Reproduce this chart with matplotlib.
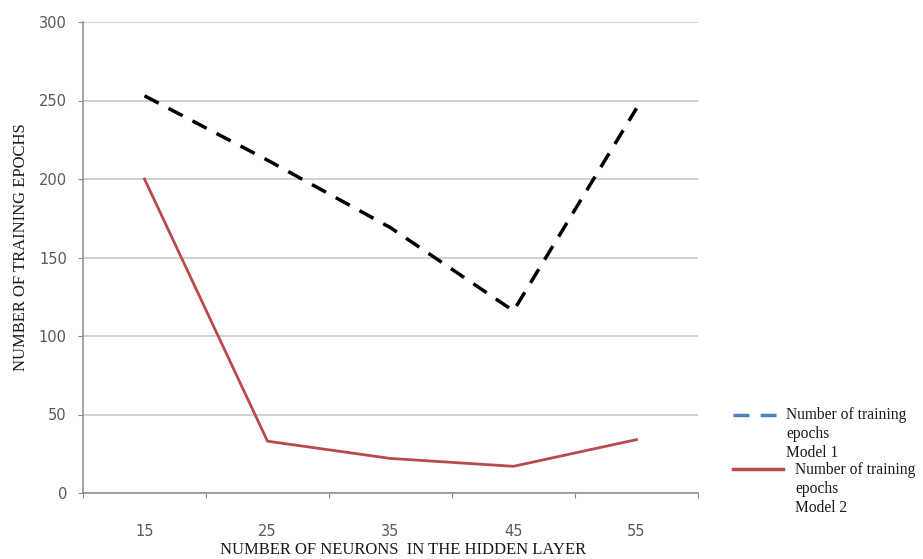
import matplotlib
matplotlib.use("Agg")
import matplotlib.pyplot as plt
from matplotlib.lines import Line2D

categories = ["15", "25", "35", "45", "55"]
model1 = [253, 212, 169, 116, 245]
model2 = [200, 33, 22, 17, 34]
yticks = [0, 50, 100, 150, 200, 250, 300]
legend_labels = ["Number of training\nepochs\nModel 1", "Number of training\nepochs\nModel 2"]

fig = plt.figure(figsize=(9.23, 5.59), dpi=100)
ax = fig.add_axes([83/923, 1 - 493/559, (698-83)/923, (493-22)/559])

dash = (0, (4.6, 3.2))
x = list(range(len(categories)))
ax.plot(x, model1, color="black", lw=2.5, linestyle=dash, dash_capstyle="butt")
ax.plot(x, model2, color="#b84a4c", lw=2.0)

ax.set_xlim(-0.5, len(categories) - 0.5)
ax.set_ylim(0, 300)
ax.set_yticks(yticks)
ax.set_yticklabels([str(v) for v in yticks])
ax.yaxis.grid(True, color="#c3c3c3", lw=1.1)
ax.set_axisbelow(True)

# x ticks at category boundaries, labels at category centres
ax.set_xticks([i - 0.5 for i in range(len(categories) + 1)])
ax.set_xticklabels([])
ax.set_xticks(x, minor=True)
ax.set_xticklabels(categories, minor=True)
ax.tick_params(axis="x", which="minor", length=0, pad=22, labelsize=10.5, labelcolor="#595959")
ax.tick_params(axis="x", which="major", length=3.6, color="#8a8a8a", direction="out")
ax.tick_params(axis="y", length=3.6, color="#8a8a8a", direction="out", pad=8, labelsize=10.5, labelcolor="#595959")

for s in ["top", "right"]:
    ax.spines[s].set_visible(False)
for s in ["left", "bottom"]:
    ax.spines[s].set_color("#8a8a8a")
    ax.spines[s].set_linewidth(1.1)

serif = "Liberation Serif"
fig.text(403/923, 1 - 550/559, "NUMBER OF NEURONS  IN THE HIDDEN LAYER", ha="center", va="center",
         family=serif, fontsize=12, color="#1a1a1a")
fig.text(21/923, 1 - 247/559, "NUMBER OF TRAINING EPOCHS", ha="center", va="center", rotation=90,
         family=serif, fontsize=12, color="#1a1a1a")

# legend drawn at figure level
fig.add_artist(Line2D([733/923, 778/923], [1 - 415/559, 1 - 415/559], transform=fig.transFigure,
                      color="#4f81bd", lw=2.5, linestyle=dash))
fig.text(786/923, 1 - 407/559, legend_labels[0], ha="left", va="top", family=serif, fontsize=11.2,
         color="#1a1a1a", linespacing=1.25)
fig.add_artist(Line2D([733/923, 783/923], [1 - 469/559, 1 - 469/559], transform=fig.transFigure,
                      color="#b84a4c", lw=2.5))
fig.text(795/923, 1 - 462/559, legend_labels[1], ha="left", va="top", family=serif, fontsize=11.2,
         color="#1a1a1a", linespacing=1.25)

fig.savefig("out.png", dpi=100, facecolor="white")
